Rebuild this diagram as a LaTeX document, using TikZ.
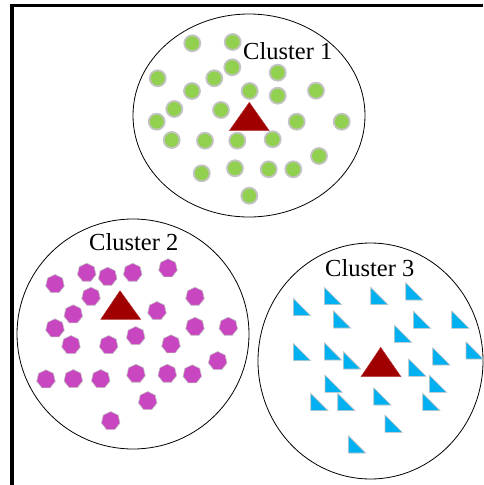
\documentclass[tikz,border=0pt]{standalone}
\usepackage{fontspec}
\setmainfont{Liberation Serif}
\usetikzlibrary{shapes.geometric}
\definecolor{ptgreen}{RGB}{146,208,80}
\definecolor{ptmagenta}{RGB}{200,70,192}
\definecolor{ptcyan}{RGB}{0,176,240}
\definecolor{centroid}{RGB}{160,0,0}
\definecolor{rim}{RGB}{195,195,195}
\tikzset{
  frameline/.style={line width=3.5pt,black},
  clusterline/.style={draw=black,line width=0.8pt},
  greendot/.style={circle,fill=ptgreen,draw=rim,line width=1.8pt,minimum size=16pt,inner sep=0pt},
  heptdot/.style={regular polygon,regular polygon sides=7,fill=ptmagenta,draw=rim,line width=0.6pt,minimum size=19pt,inner sep=0pt},
  wedge/.style={fill=ptcyan,draw=rim,line width=0.6pt},
  centre/.style={fill=centroid,draw=centroid!80!white,line width=0.4pt},
  clabel/.style={font=\fontsize{24.5}{28}\selectfont,anchor=base west,inner sep=0pt}
}
\begin{document}
\begin{tikzpicture}[x=1pt,y=-1pt]
\useasboundingbox (0,0) rectangle (483,485);
% frame on the left and top
\coordinate (fl) at (12,485);
\coordinate (ft) at (12,5.5);
\coordinate (fr) at (483,5.5);
\draw[frameline] (fl) -- (ft) -- (fr);

% cluster outlines
\draw[clusterline] (249,115.5) ellipse [x radius=116, y radius=101.5];
\draw[clusterline] (133,334) ellipse [x radius=116, y radius=115];
\draw[clusterline] (370.5,361) ellipse [x radius=112.5, y radius=118];

% cluster 1 points
\foreach \px/\py [count=\i] in {192.3/43.3,232.7/42,157.7/78.3,214.3/78.3,232.3/67.3,277.7/72.7,
  192/91,249.7/91,277.7/95.7,316/90.7,174.3/109,221/110,156.7/121.7,296.7/121.7,341.7/121.7,
  171.7/140,205/140.7,237.3/140.7,272.7/139.3,319/156,201.7/173.3,235/168.3,268.7/169.3,
  293.3/169.3,249.3/195.7}
  \node[greendot] (g\i) at (\px,\py) {};

% cluster 2 points
\foreach \px/\py [count=\i] in {55/284,86.7/272.7,107.7/276.7,132.7/272.7,168/268.3,91/296.7,
  73.3/314.3,157/311,195/296.7,55/328.3,195/326.7,228.3/326.7,71/345,108.7/345,135.7/336,
  171/344.3,217.7/361,46/379.3,73.3/379,100.7/379,136/373.7,167.3/373.7,192.3/374.3,
  147.7/401,110.7/421}
  \node[heptdot] (h\i) at (\px,\py) {};

% cluster 3 points: right triangles, given by top-left corner
\foreach \px/\py [count=\i] in {293.3/298.3,324.3/287.3,370.7/287.3,405.7/282.7,333.3/310.7,
  413.3/311,451.7/311,394.3/325,293.3/343.3,324.3/342.7,343.3/351.7,466/341.7,432.7/347.7,
  408.7/359,325/375,429.3/375,310.7/393.3,337.7/393.3,373.7/387.7,422.7/393.3,385/415,
  348.3/435.7}
  \draw[wedge] (\px,\py) -- ++(0,17.3) -- ++(17.3,0) -- cycle;

% centroids
\draw[centre] (249.3,102.3) -- (229.3,130.7) -- (269.3,130.7) -- cycle;
\draw[centre] (120,290.7) -- (100.7,319.3) -- (140.7,319.3) -- cycle;
\draw[centre] (380.7,347.3) -- (361,376.7) -- (401,376.7) -- cycle;

% labels
\node[clabel] (l1) at (243,59) {Cluster 1};
\node[clabel] (l2) at (89,250) {Cluster 2};
\node[clabel] (l3) at (325,276) {Cluster 3};
\end{tikzpicture}
\end{document}
